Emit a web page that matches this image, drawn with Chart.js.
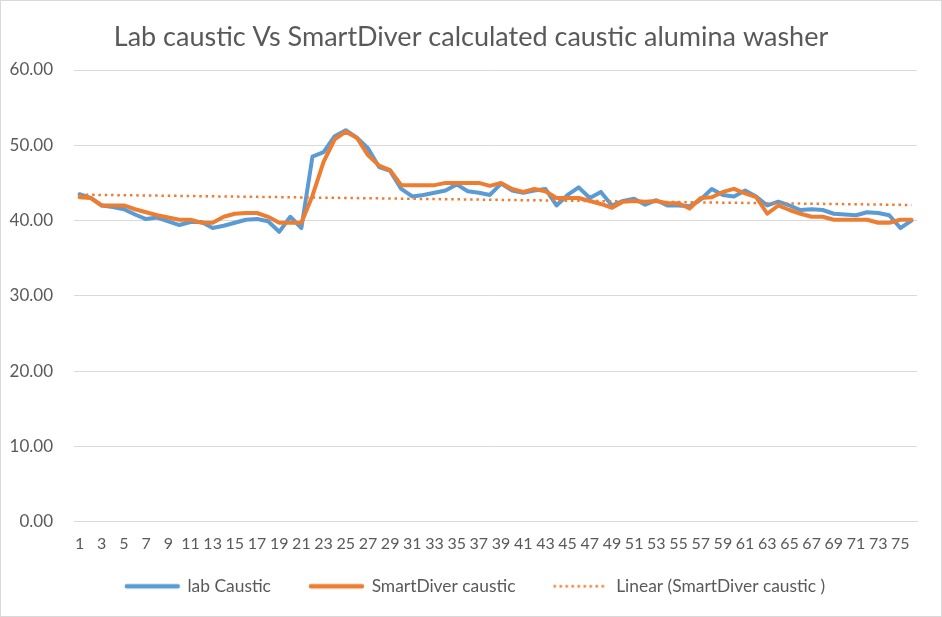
<!DOCTYPE html>
<html>
<head>
<meta charset="utf-8">
<script src="https://cdn.jsdelivr.net/npm/chart.js@4/dist/chart.umd.min.js"></script>
<style>
  html, body { margin: 0; padding: 0; background: #fff; }
  #wrap { width: 940px; height: 615px; border: 1px solid #d9d9d9; position: relative; }
</style>
</head>
<body>
<div id="wrap"><canvas id="chart" width="940" height="615"></canvas></div>
<script>
const titleText = 'Lab caustic Vs SmartDiver calculated caustic alumina washer';

const samples = [];
for (let i = 1; i <= 76; i++) samples.push(String(i));

const labCaustic = [
  43.5, 43.0, 42.0, 41.8, 41.5, 40.8, 40.2, 40.4, 39.9, 39.4,
  39.8, 39.8, 39.0, 39.3, 39.7, 40.1, 40.2, 39.9, 38.5, 40.5,
  39.0, 48.5, 49.1, 51.2, 52.0, 51.0, 49.6, 47.1, 46.6, 44.2,
  43.2, 43.4, 43.7, 44.0, 44.8, 43.9, 43.7, 43.4, 44.9, 44.0,
  43.7, 44.0, 44.2, 42.0, 43.4, 44.4, 43.0, 43.8, 42.0, 42.6,
  42.9, 42.1, 42.7, 42.0, 42.0, 41.9, 42.8, 44.2, 43.4, 43.2,
  44.0, 43.2, 42.0, 42.5, 42.0, 41.4, 41.5, 41.4, 40.9, 40.8,
  40.7, 41.1, 41.0, 40.7, 39.0, 40.0
];

const smartDiver = [
  43.1, 43.0, 42.0, 42.0, 42.0, 41.5, 41.1, 40.7, 40.4, 40.1,
  40.1, 39.7, 39.7, 40.5, 40.9, 41.0, 41.0, 40.5, 39.7, 39.7,
  39.7, 43.3, 47.8, 50.8, 51.8, 51.0, 48.7, 47.3, 46.7, 44.7,
  44.7, 44.7, 44.7, 45.0, 45.0, 45.0, 45.0, 44.6, 45.0, 44.2,
  43.8, 44.2, 43.9, 43.0, 43.0, 43.0, 42.6, 42.2, 41.7, 42.5,
  42.6, 42.5, 42.6, 42.3, 42.3, 41.6, 43.0, 43.1, 43.8, 44.2,
  43.6, 43.1, 40.9, 42.0, 41.4, 40.9, 40.5, 40.5, 40.1, 40.1,
  40.1, 40.1, 39.7, 39.7, 40.1, 40.1
];

const yTicks = [0, 10, 20, 30, 40, 50, 60];

// least squares trend of the SmartDiver series, like Excel's "Linear" trendline
function linearTrend(vals) {
  const n = vals.length;
  let sx = 0, sy = 0, sxy = 0, sxx = 0;
  vals.forEach((v, i) => {
    const x = i + 1;
    sx += x; sy += v; sxy += x * v; sxx += x * x;
  });
  const slope = (n * sxy - sx * sy) / (n * sxx - sx * sx);
  const icpt = (sy - slope * sx) / n;
  return vals.map((v, i) => +(icpt + slope * (i + 1)).toFixed(3));
}

// small legend swatch: blank gap on the left, then the line sample
// (a bit wider than pointStyleWidth so the line sits close to its text)
function swatch(color, width, dash) {
  const c = document.createElement('canvas');
  c.width = 92; c.height = 8;
  const g = c.getContext('2d');
  g.strokeStyle = color;
  g.lineWidth = width;
  g.lineCap = dash ? 'butt' : 'round';
  if (dash) g.setLineDash(dash);
  g.beginPath();
  g.moveTo(dash ? 34 : 36, 4);
  g.lineTo(dash ? 88 : 87, 4);
  g.stroke();
  return c;
}

const fontFam = 'Lato, "Liberation Sans", sans-serif';
const grey = '#595959';
const blue = '#5B9BD5';
const orange = '#ED7D31';

// nudge title and legend to where the original puts them
const boxShift = {
  id: 'boxShift',
  afterLayout(chart) {
    chart.titleBlock.left += 8;
    chart.titleBlock.right += 8;
    chart.legend.left -= 3;
    chart.legend.right -= 3;
  }
};

new Chart(document.getElementById('chart'), {
  type: 'line',
  data: {
    labels: samples,
    datasets: [
      {
        label: 'lab Caustic',
        data: labCaustic,
        borderColor: blue,
        backgroundColor: blue,
        borderWidth: 4,
        borderCapStyle: 'round',
        borderJoinStyle: 'round',
        pointRadius: 0,
        pointStyle: swatch(blue, 4.5),
        tension: 0,
        order: 3
      },
      {
        label: 'SmartDiver caustic',
        data: smartDiver,
        borderColor: orange,
        backgroundColor: orange,
        borderWidth: 4,
        borderCapStyle: 'round',
        borderJoinStyle: 'round',
        pointRadius: 0,
        pointStyle: swatch(orange, 4.5),
        tension: 0,
        order: 2
      },
      {
        label: 'Linear (SmartDiver caustic )',
        data: linearTrend(smartDiver),
        borderColor: orange,
        backgroundColor: orange,
        borderWidth: 2.5,
        borderDash: [2.5, 3.8],
        pointRadius: 0,
        pointStyle: swatch(orange, 2.5, [2.5, 3.5]),
        tension: 0,
        order: 1
      }
    ]
  },
  plugins: [boxShift],
  options: {
    responsive: false,
    animation: false,
    layout: { padding: { left: 8, right: 24, top: 0, bottom: 11 } },
    plugins: {
      title: {
        display: true,
        text: titleText,
        color: grey,
        font: { family: fontFam, size: 27, weight: 'normal' },
        padding: { top: 20, bottom: 16.6 }
      },
      legend: {
        position: 'bottom',
        labels: {
          color: grey,
          font: { family: fontFam, size: 17.4 },
          usePointStyle: true,
          pointStyleWidth: 84,
          padding: 8,
          sort: (a, b) => a.datasetIndex - b.datasetIndex
        }
      },
      tooltip: { enabled: false }
    },
    scales: {
      x: {
        offset: true,
        afterFit: s => { s.height = 48; },
        grid: { display: false, drawTicks: false },
        border: { display: true, color: '#d9d9d9' },
        ticks: {
          autoSkip: false,
          maxRotation: 0,
          color: grey,
          padding: 13,
          font: { family: fontFam, size: 16 },
          callback: function(val, idx) {
            return idx % 2 === 0 ? this.getLabelForValue(val) : '';
          }
        }
      },
      y: {
        min: 0,
        max: 60,
        afterBuildTicks: s => { s.ticks = yTicks.map(v => ({ value: v })); },
        afterFit: s => { s.width = 65; },
        grid: { color: '#d9d9d9', drawTicks: false },
        border: { display: false },
        ticks: {
          color: grey,
          padding: 21,
          font: { family: fontFam, size: 17 },
          callback: v => v.toFixed(2)
        }
      }
    }
  }
});
</script>
</body>
</html>
